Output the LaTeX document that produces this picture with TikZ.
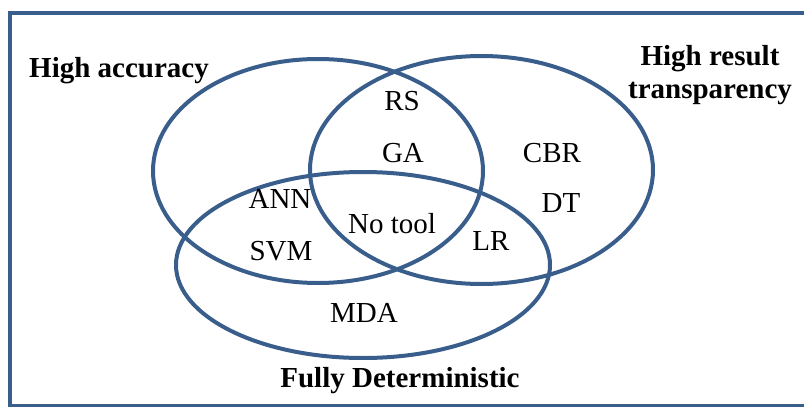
\documentclass[tikz,border=0pt]{standalone}
\usepackage{fontspec}
\setmainfont{Liberation Serif}
\definecolor{vennblue}{RGB}{58,94,140}
\begin{document}
\begin{tikzpicture}[x=0.5pt,y=-0.5pt,
  setline/.style={draw=vennblue,line width=2pt},
  lbl/.style={anchor=base,inner sep=0pt,font=\fontsize{14.5}{17}\selectfont},
  ttl/.style={anchor=base,inner sep=0pt,font=\fontsize{14.5}{17}\selectfont\bfseries}]
\useasboundingbox (0,0) rectangle (804,407);
\begin{scope}
\clip (0,0) rectangle (804,407);
\draw[vennblue,line width=2pt] (9.5,12.5) rectangle (830,406);
\end{scope}
% sets
\draw[setline] (318,171) ellipse [x radius=82.5pt,y radius=56pt];
\draw[setline] (481.5,170) ellipse [x radius=85.75pt,y radius=57pt];
\draw[setline] (363,265) ellipse [x radius=93.5pt,y radius=46.5pt];
% titles
\node[ttl] (acc) at (119,77) {High accuracy};
\node[ttl] (tr1) at (710,65) {High result};
\node[ttl] (tr2) at (710,98) {transparency};
\node[ttl] (det) at (400,387) {Fully Deterministic};
% members
\node[lbl] (rs) at (402,110) {RS};
\node[lbl] (ga) at (403,162) {GA};
\node[lbl] (cbr) at (552,162) {CBR};
\node[lbl] (dt) at (561,212) {DT};
\node[lbl] (ann) at (280,208) {ANN};
\node[lbl] (svm) at (281,260) {SVM};
\node[lbl] (none) at (392,233) {No tool};
\node[lbl] (lr) at (491,250) {LR};
\node[lbl] (mda) at (364,322) {MDA};
\end{tikzpicture}
\end{document}
